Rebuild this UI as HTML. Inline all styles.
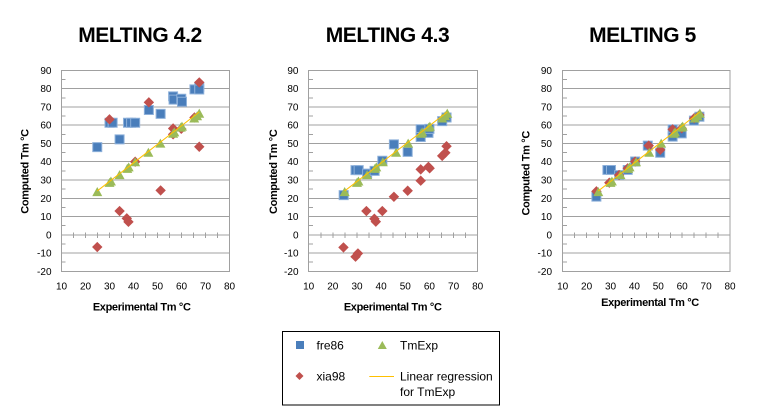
<!DOCTYPE html>
<html>
<head>
<meta charset="utf-8">
<style>
html,body{margin:0;padding:0;background:#fff;}
svg{display:block;}
text{font-family:"Liberation Sans",Arial,sans-serif;fill:#000;}
.t{font-size:21px;font-weight:bold;letter-spacing:-0.4px;}
.yl{font-size:10px;text-anchor:end;}
.xl{font-size:10px;text-anchor:middle;}
.at{font-size:11px;font-weight:bold;text-anchor:middle;letter-spacing:-0.35px;}
.lg{font-size:12px;}
</style>
</head>
<body>
<svg width="760" height="419" viewBox="0 0 760 419" xmlns="http://www.w3.org/2000/svg">
<defs>
  <rect id="sq" x="-1.875" y="-2.46" width="3.75" height="4.92" fill="#4A7EBB" stroke="#8DB0DA" stroke-width="1" vector-effect="non-scaling-stroke"/>
  <polygon id="dm" points="0,2.85 2.17,0 0,-2.85 -2.17,0" fill="#C0504D"/>
  <polygon id="tr" points="0,2.63 2.08,-2.3 -2.08,-2.3" fill="#9BBB59"/>
  <g id="frame" fill="none" stroke="#A0A0A0" stroke-width="1" shape-rendering="crispEdges">
    <line x1="10" x2="80" y1="90" y2="90" vector-effect="non-scaling-stroke"/>
    <line x1="10" x2="80" y1="80" y2="80" vector-effect="non-scaling-stroke"/>
    <line x1="10" x2="80" y1="70" y2="70" vector-effect="non-scaling-stroke"/>
    <line x1="10" x2="80" y1="60" y2="60" vector-effect="non-scaling-stroke"/>
    <line x1="10" x2="80" y1="50" y2="50" vector-effect="non-scaling-stroke"/>
    <line x1="10" x2="80" y1="40" y2="40" vector-effect="non-scaling-stroke"/>
    <line x1="10" x2="80" y1="30" y2="30" vector-effect="non-scaling-stroke"/>
    <line x1="10" x2="80" y1="20" y2="20" vector-effect="non-scaling-stroke"/>
    <line x1="10" x2="80" y1="10" y2="10" vector-effect="non-scaling-stroke"/>
    <line x1="10" x2="80" y1="0" y2="0" vector-effect="non-scaling-stroke"/>
    <line x1="10" x2="80" y1="-10" y2="-10" vector-effect="non-scaling-stroke"/>
    <rect x="10" y="-20" width="70" height="110" vector-effect="non-scaling-stroke"/>
    <line x1="10" x2="11.7" y1="85" y2="85" vector-effect="non-scaling-stroke"/>
    <line x1="10" x2="11.7" y1="75" y2="75" vector-effect="non-scaling-stroke"/>
    <line x1="10" x2="11.7" y1="65" y2="65" vector-effect="non-scaling-stroke"/>
    <line x1="10" x2="11.7" y1="55" y2="55" vector-effect="non-scaling-stroke"/>
    <line x1="10" x2="11.7" y1="45" y2="45" vector-effect="non-scaling-stroke"/>
    <line x1="10" x2="11.7" y1="35" y2="35" vector-effect="non-scaling-stroke"/>
    <line x1="10" x2="11.7" y1="25" y2="25" vector-effect="non-scaling-stroke"/>
    <line x1="10" x2="11.7" y1="15" y2="15" vector-effect="non-scaling-stroke"/>
    <line x1="10" x2="11.7" y1="5" y2="5" vector-effect="non-scaling-stroke"/>
    <line x1="10" x2="11.7" y1="-5" y2="-5" vector-effect="non-scaling-stroke"/>
    <line x1="10" x2="11.7" y1="-15" y2="-15" vector-effect="non-scaling-stroke"/>
    <line x1="15" x2="15" y1="1.3" y2="-1.7" vector-effect="non-scaling-stroke"/>
    <line x1="20" x2="20" y1="1.3" y2="-1.7" vector-effect="non-scaling-stroke"/>
    <line x1="25" x2="25" y1="1.3" y2="-1.7" vector-effect="non-scaling-stroke"/>
    <line x1="30" x2="30" y1="1.3" y2="-1.7" vector-effect="non-scaling-stroke"/>
    <line x1="35" x2="35" y1="1.3" y2="-1.7" vector-effect="non-scaling-stroke"/>
    <line x1="40" x2="40" y1="1.3" y2="-1.7" vector-effect="non-scaling-stroke"/>
    <line x1="45" x2="45" y1="1.3" y2="-1.7" vector-effect="non-scaling-stroke"/>
    <line x1="50" x2="50" y1="1.3" y2="-1.7" vector-effect="non-scaling-stroke"/>
    <line x1="55" x2="55" y1="1.3" y2="-1.7" vector-effect="non-scaling-stroke"/>
    <line x1="60" x2="60" y1="1.3" y2="-1.7" vector-effect="non-scaling-stroke"/>
    <line x1="65" x2="65" y1="1.3" y2="-1.7" vector-effect="non-scaling-stroke"/>
    <line x1="70" x2="70" y1="1.3" y2="-1.7" vector-effect="non-scaling-stroke"/>
    <line x1="75" x2="75" y1="1.3" y2="-1.7" vector-effect="non-scaling-stroke"/>
  </g>
  <g id="exp">
    <use href="#tr" x="24.9" y="23.5"/>
    <use href="#tr" x="30" y="28.5"/>
    <use href="#tr" x="30.6" y="29.3"/>
    <use href="#tr" x="34.2" y="32.8"/>
    <use href="#tr" x="37.4" y="36.2"/>
    <use href="#tr" x="38" y="37"/>
    <use href="#tr" x="40.7" y="39.8"/>
    <use href="#tr" x="46.2" y="45"/>
    <use href="#tr" x="51.2" y="50"/>
    <use href="#tr" x="56.5" y="55.4"/>
    <use href="#tr" x="57" y="56.2"/>
    <use href="#tr" x="59.7" y="58.8"/>
    <use href="#tr" x="60.2" y="59.3"/>
    <use href="#tr" x="65.3" y="63.8"/>
    <use href="#tr" x="66.5" y="65"/>
    <use href="#tr" x="67.4" y="66.4"/>
    <line x1="24.9" y1="24" x2="67.4" y2="67.2" stroke="#FFC000" stroke-width="1" vector-effect="non-scaling-stroke"/>
  </g>
</defs>

<!-- ============ CHART 1 ============ -->
<text class="t" x="140" y="42" text-anchor="middle">MELTING 4.2</text>
<g transform="translate(37.5,234.8) scale(2.4,-1.827)">
  <use href="#frame"/>
  <use href="#sq" x="24.9" y="48"/>
  <use href="#sq" x="30" y="61.3"/>
  <use href="#sq" x="31.3" y="61.3"/>
  <use href="#sq" x="34.2" y="52.2"/>
  <use href="#sq" x="37.7" y="61.3"/>
  <use href="#sq" x="39" y="61.3"/>
  <use href="#sq" x="40.7" y="61.3"/>
  <use href="#sq" x="46.4" y="68.3"/>
  <use href="#sq" x="51.3" y="66.2"/>
  <use href="#sq" x="56.5" y="75.8"/>
  <use href="#sq" x="56.7" y="74"/>
  <use href="#sq" x="59.9" y="74.5"/>
  <use href="#sq" x="60.2" y="72.8"/>
  <use href="#sq" x="65.4" y="79.6"/>
  <use href="#sq" x="67.4" y="81"/>
  <use href="#sq" x="67.4" y="79.5"/>
  <use href="#dm" x="24.9" y="-6.7"/>
  <use href="#dm" x="30" y="63.2"/>
  <use href="#dm" x="34.2" y="13"/>
  <use href="#dm" x="37.2" y="9"/>
  <use href="#dm" x="37.9" y="7.1"/>
  <use href="#dm" x="40.7" y="40"/>
  <use href="#dm" x="46.4" y="72.5"/>
  <use href="#dm" x="51.3" y="24.3"/>
  <use href="#dm" x="56.5" y="58.2"/>
  <use href="#dm" x="56.5" y="55"/>
  <use href="#dm" x="59.9" y="58"/>
  <use href="#dm" x="65.4" y="64.2"/>
  <use href="#dm" x="67.4" y="83.4"/>
  <use href="#dm" x="67.4" y="48.2"/>
  <use href="#exp"/>
</g>
<g>
  <text class="yl" x="51.5" y="73.9">90</text>
  <text class="yl" x="51.5" y="92.1">80</text>
  <text class="yl" x="51.5" y="110.4">70</text>
  <text class="yl" x="51.5" y="128.7">60</text>
  <text class="yl" x="51.5" y="147">50</text>
  <text class="yl" x="51.5" y="165.2">40</text>
  <text class="yl" x="51.5" y="183.5">30</text>
  <text class="yl" x="51.5" y="201.8">20</text>
  <text class="yl" x="51.5" y="220">10</text>
  <text class="yl" x="51.5" y="238.3">0</text>
  <text class="yl" x="51.5" y="256.6">-10</text>
  <text class="yl" x="51.5" y="274.8">-20</text>
  <text class="xl" x="61.5" y="289.5">10</text>
  <text class="xl" x="85.5" y="289.5">20</text>
  <text class="xl" x="109.5" y="289.5">30</text>
  <text class="xl" x="133.5" y="289.5">40</text>
  <text class="xl" x="157.5" y="289.5">50</text>
  <text class="xl" x="181.5" y="289.5">60</text>
  <text class="xl" x="205.5" y="289.5">70</text>
  <text class="xl" x="229.5" y="289.5">80</text>
  <text class="at" x="141.7" y="310.7">Experimental Tm °C</text>
  <text class="at" transform="translate(28.4,171.5) rotate(-90)" x="0" y="0">Computed Tm °C</text>
</g>

<!-- ============ CHART 2 ============ -->
<text class="t" x="387.5" y="42" text-anchor="middle">MELTING 4.3</text>
<g transform="translate(284.56,234.8) scale(2.414,-1.827)">
  <use href="#frame"/>
  <use href="#sq" x="24.5" y="21.7"/>
  <use href="#sq" x="29.4" y="35.4"/>
  <use href="#sq" x="30.7" y="35.4"/>
  <use href="#sq" x="34.2" y="33.5"/>
  <use href="#sq" x="37.3" y="35"/>
  <use href="#sq" x="40.5" y="40.5"/>
  <use href="#sq" x="45.3" y="49.5"/>
  <use href="#sq" x="51" y="45.4"/>
  <use href="#sq" x="56.4" y="57.8"/>
  <use href="#sq" x="56.4" y="53.5"/>
  <use href="#sq" x="59.6" y="55.8"/>
  <use href="#sq" x="60" y="58"/>
  <use href="#sq" x="65.3" y="62.2"/>
  <use href="#sq" x="67.1" y="64.2"/>
  <use href="#dm" x="24.4" y="-6.9"/>
  <use href="#dm" x="29.4" y="-12"/>
  <use href="#dm" x="30.4" y="-10.2"/>
  <use href="#dm" x="33.9" y="13"/>
  <use href="#dm" x="37.2" y="8.8"/>
  <use href="#dm" x="37.8" y="7.2"/>
  <use href="#dm" x="40.5" y="13"/>
  <use href="#dm" x="45.3" y="20.8"/>
  <use href="#dm" x="51" y="24.1"/>
  <use href="#dm" x="56.4" y="35.8"/>
  <use href="#dm" x="56.4" y="29.6"/>
  <use href="#dm" x="59.6" y="37.2"/>
  <use href="#dm" x="60.1" y="36.4"/>
  <use href="#dm" x="65.3" y="43.2"/>
  <use href="#dm" x="66.6" y="44.9"/>
  <use href="#dm" x="67.1" y="48.5"/>
  <use href="#exp"/>
</g>
<g>
  <text class="yl" x="298.5" y="73.9">90</text>
  <text class="yl" x="298.5" y="92.1">80</text>
  <text class="yl" x="298.5" y="110.4">70</text>
  <text class="yl" x="298.5" y="128.7">60</text>
  <text class="yl" x="298.5" y="147">50</text>
  <text class="yl" x="298.5" y="165.2">40</text>
  <text class="yl" x="298.5" y="183.5">30</text>
  <text class="yl" x="298.5" y="201.8">20</text>
  <text class="yl" x="298.5" y="220">10</text>
  <text class="yl" x="298.5" y="238.3">0</text>
  <text class="yl" x="298.5" y="256.6">-10</text>
  <text class="yl" x="298.5" y="274.8">-20</text>
  <text class="xl" x="308.7" y="289.5">10</text>
  <text class="xl" x="332.8" y="289.5">20</text>
  <text class="xl" x="357" y="289.5">30</text>
  <text class="xl" x="381.1" y="289.5">40</text>
  <text class="xl" x="405.3" y="289.5">50</text>
  <text class="xl" x="429.4" y="289.5">60</text>
  <text class="xl" x="453.6" y="289.5">70</text>
  <text class="xl" x="477.7" y="289.5">80</text>
  <text class="at" x="392.7" y="310.7">Experimental Tm °C</text>
  <text class="at" transform="translate(277.2,171.8) rotate(-90)" x="0" y="0">Computed Tm °C</text>
</g>

<!-- ============ CHART 3 ============ -->
<text class="t" x="642.5" y="42" text-anchor="middle">MELTING 5</text>
<g transform="translate(538.8,234.8) scale(2.39,-1.827)">
  <use href="#frame"/>
  <use href="#sq" x="24.1" y="20.9"/>
  <use href="#sq" x="28.7" y="35.5"/>
  <use href="#sq" x="30.2" y="35.5"/>
  <use href="#sq" x="33.6" y="32.7"/>
  <use href="#sq" x="37.2" y="35.5"/>
  <use href="#sq" x="40.3" y="40.1"/>
  <use href="#sq" x="45.6" y="48.8"/>
  <use href="#sq" x="50.8" y="44.9"/>
  <use href="#sq" x="56" y="57.7"/>
  <use href="#sq" x="56" y="53.7"/>
  <use href="#sq" x="59.8" y="55.5"/>
  <use href="#sq" x="64.9" y="62.5"/>
  <use href="#sq" x="67.2" y="64.6"/>
  <use href="#dm" x="24.1" y="23.8"/>
  <use href="#dm" x="29.5" y="28.5"/>
  <use href="#dm" x="33.6" y="32.7"/>
  <use href="#dm" x="37.2" y="36.4"/>
  <use href="#dm" x="40.3" y="40.1"/>
  <use href="#dm" x="46" y="48.8"/>
  <use href="#dm" x="50.8" y="46.5"/>
  <use href="#dm" x="56" y="57.7"/>
  <use href="#dm" x="59.8" y="58.3"/>
  <use href="#dm" x="65" y="63.8"/>
  <use href="#dm" x="67.2" y="65.6"/>
  <use href="#exp"/>
</g>
<g>
  <text class="yl" x="552" y="73.9">90</text>
  <text class="yl" x="552" y="92.1">80</text>
  <text class="yl" x="552" y="110.4">70</text>
  <text class="yl" x="552" y="128.7">60</text>
  <text class="yl" x="552" y="147">50</text>
  <text class="yl" x="552" y="165.2">40</text>
  <text class="yl" x="552" y="183.5">30</text>
  <text class="yl" x="552" y="201.8">20</text>
  <text class="yl" x="552" y="220">10</text>
  <text class="yl" x="552" y="238.3">0</text>
  <text class="yl" x="552" y="256.6">-10</text>
  <text class="yl" x="552" y="274.8">-20</text>
  <text class="xl" x="562.7" y="289.5">10</text>
  <text class="xl" x="586.6" y="289.5">20</text>
  <text class="xl" x="610.5" y="289.5">30</text>
  <text class="xl" x="634.4" y="289.5">40</text>
  <text class="xl" x="658.3" y="289.5">50</text>
  <text class="xl" x="682.2" y="289.5">60</text>
  <text class="xl" x="706.1" y="289.5">70</text>
  <text class="xl" x="730" y="289.5">80</text>
  <text class="at" x="650" y="306">Experimental Tm °C</text>
  <text class="at" transform="translate(529.4,173.3) rotate(-90)" x="0" y="0">Computed Tm °C</text>
</g>

<!-- ============ LEGEND ============ -->
<rect x="282.5" y="331.5" width="217" height="73.5" fill="none" stroke="#000" stroke-width="1"/>
<rect x="296" y="341" width="8" height="8" fill="#4A7EBB"/>
<text class="lg" x="316.5" y="349.3">fre86</text>
<polygon points="382.3,341 386.8,349 377.8,349" fill="#9BBB59"/>
<text class="lg" x="400" y="349.3">TmExp</text>
<polygon points="299.5,372 303.5,376 299.5,380 295.5,376" fill="#C0504D"/>
<text class="lg" x="316.5" y="380.3">xia98</text>
<line x1="369.3" y1="376.5" x2="394" y2="376.5" stroke="#FFC000" stroke-width="1"/>
<text class="lg" x="400" y="380.3">Linear regression</text>
<text class="lg" x="400" y="395.8">for TmExp</text>
</svg>
</body>
</html>
